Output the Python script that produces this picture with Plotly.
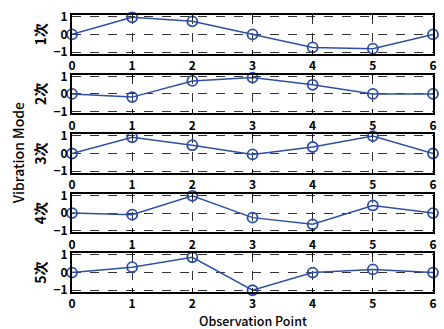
import plotly.graph_objects as go
from plotly.subplots import make_subplots

points = [0, 1, 2, 3, 4, 5, 6]
mode_labels = ["1次", "2次", "3次", "4次", "5次"]
mode1 = [0.0, 0.97, 0.74, 0.0, -0.74, -0.81, 0.0]
mode2 = [0.0, -0.18, 0.74, 0.93, 0.52, 0.0, 0.0]
mode3 = [0.0, 0.92, 0.47, -0.05, 0.37, 0.99, 0.0]
mode4 = [0.0, -0.09, 0.98, -0.26, -0.64, 0.43, 0.0]
mode5 = [0.0, 0.31, 0.87, -1.0, 0.0, 0.18, 0.0]
modes = [mode1, mode2, mode3, mode4, mode5]
ytick_vals = [-1, 0, 1]
ytick_text = ["\u22121", "0", "1"]

FONT = "Noto Sans CJK JP"
color = "#2d4fa3"

fig = make_subplots(rows=5, cols=1, vertical_spacing=0.075)

for i, (vals, lab) in enumerate(zip(modes, mode_labels)):
    r = i + 1
    fig.add_trace(go.Scatter(
        x=points, y=vals, mode="lines+markers",
        line=dict(color=color, width=1.5),
        marker=dict(symbol="circle-open", size=10, color=color, line=dict(width=1.8, color=color)),
        showlegend=False, cliponaxis=False), row=r, col=1)
    fig.update_xaxes(range=[0, 6], tickvals=points, ticktext=[str(p) for p in points],
                     showgrid=True, gridcolor="#333333", griddash="dash", gridwidth=1,
                     showline=True, linecolor="black", linewidth=2, mirror="ticks",
                     ticks="inside", ticklen=4, tickcolor="black", tickwidth=1,
                     tickfont=dict(family=FONT, size=12, color="black", weight="bold"),
                     zeroline=False, row=r, col=1)
    fig.update_yaxes(range=[-1.1, 1.1], tickvals=ytick_vals, ticktext=ytick_text,
                     showgrid=True, gridcolor="#333333", griddash="dash", gridwidth=1,
                     showline=True, linecolor="black", linewidth=2, mirror=True,
                     ticks="", zeroline=False,
                     tickfont=dict(family=FONT, size=12, color="black", weight="bold"),
                     title=dict(text=lab, standoff=4,
                                font=dict(family=FONT, size=14, color="black", weight="bold")),
                     row=r, col=1)

fig.add_annotation(text="Vibration Mode", xref="paper", yref="paper",
                   x=-0.15, y=0.5, xanchor="center", yanchor="middle", textangle=-90,
                   showarrow=False, font=dict(family=FONT, size=14, color="black", weight=500))
fig.add_annotation(text="Observation Point", xref="paper", yref="paper",
                   x=0.5, y=-0.104, xanchor="center", yanchor="middle",
                   showarrow=False, font=dict(family=FONT, size=12.5, color="black", weight=500))

fig.update_layout(width=444, height=329, margin=dict(l=72, r=7, t=10, b=37),
                  plot_bgcolor="white", paper_bgcolor="white",
                  font=dict(family=FONT, color="black"))

fig.write_html("out.html", config={"displayModeBar": False},
               post_script="document.body.style.margin='0';document.body.style.overflow='hidden';")
